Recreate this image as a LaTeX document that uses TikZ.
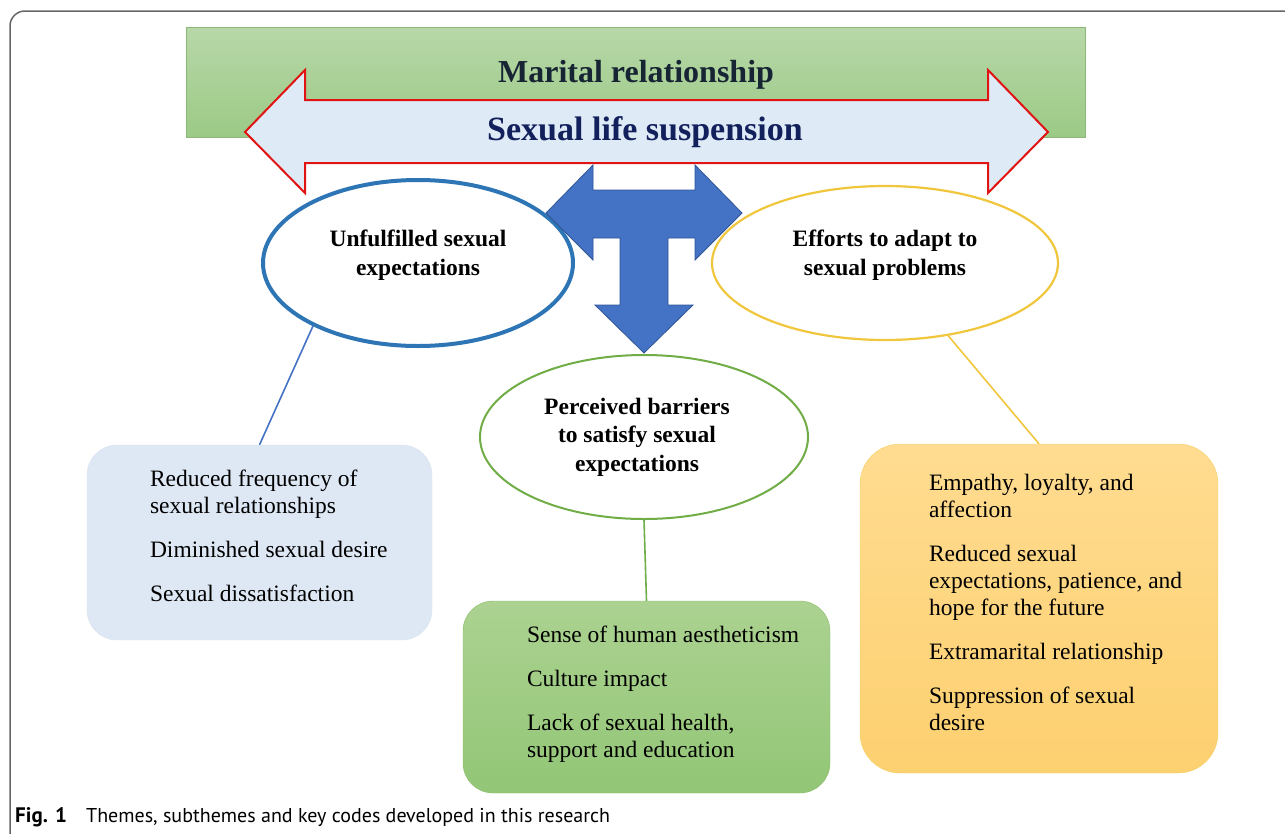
\documentclass[tikz,border=0pt]{standalone}
\usepackage{fontspec}
\setmainfont{Liberation Serif}
\newfontfamily\capfont{PT Sans}
\usepackage{xcolor}
\usepackage{tikz}
\usetikzlibrary{shapes.geometric}
\definecolor{bannertop}{RGB}{183,215,168}
\definecolor{bannerbot}{RGB}{156,202,134}
\definecolor{bannerline}{RGB}{140,185,120}
\definecolor{arrowfill}{RGB}{222,235,247}
\definecolor{arrowred}{RGB}{225,20,20}
\definecolor{tblue}{RGB}{68,114,196}
\definecolor{tbluedark}{RGB}{47,85,151}
\definecolor{unfblue}{RGB}{46,117,182}
\definecolor{effyellow}{RGB}{240,198,60}
\definecolor{pergreen}{RGB}{112,173,71}
\definecolor{boxblue}{RGB}{222,232,244}
\definecolor{boxgreentop}{RGB}{172,210,145}
\definecolor{boxgreenbot}{RGB}{146,198,118}
\definecolor{boxyeltop}{RGB}{255,220,145}
\definecolor{boxyelbot}{RGB}{253,208,112}
\definecolor{maritalcol}{RGB}{22,36,52}
\definecolor{suspcol}{RGB}{18,32,92}
\tikzstyle{theme}=[draw,ellipse,fill=white,inner sep=0pt]
\tikzstyle{themetext}=[align=center,inner sep=0pt,font=\fontsize{23.5}{28.5}\selectfont\bfseries]
\tikzstyle{codebox}=[rectangle,rounded corners=30pt,inner sep=0pt]
\tikzstyle{codetext}=[align=left,anchor=west,inner sep=0pt,font=\fontsize{23.5}{27}\selectfont]
\tikzstyle{link}=[line width=1.6pt]

\begin{document}
\begin{tikzpicture}[x=1pt,y=-1pt]
	\useasboundingbox (0,0) rectangle (1285,833);
	\clip (0,0) rectangle (1285,833);
	\draw[draw=black!60,line width=1.5pt,rounded corners=15pt] (10,11) rectangle (1310,850);
	\node[rectangle,draw=bannerline,top color=bannertop,bottom color=bannerbot,minimum width=899pt,minimum height=110pt,inner sep=0pt] (banner) at (635.5,82) {};
	\node[inner sep=0pt,text=maritalcol,font=\fontsize{32}{36}\selectfont\bfseries] (marital) at (636,75) {Marital relationship};
	\filldraw[fill=arrowfill,draw=arrowred,line width=2pt] (245,132) -- (305,70) -- (305,100) -- (988,100) -- (988,70) -- (1048,132) -- (988,193) -- (988,163) -- (305,163) -- (305,193) -- cycle;
	\node[inner sep=0pt,text=suspcol,font=\fontsize{34}{38}\selectfont\bfseries] (suspension) at (645,132) {Sexual life suspension};
	\node[theme,draw=unfblue,line width=4pt,minimum width=310pt,minimum height=166pt] (unfulfilled) at (418,263) {};
	\node[themetext] (unfulfilledtext) at ([yshift=8pt]unfulfilled.center) {Unfulfilled sexual\\expectations};
	\node[theme,draw=effyellow,line width=2.2pt,minimum width=346pt,minimum height=154pt] (efforts) at (885,263) {};
	\node[themetext] (effortstext) at ([yshift=8pt]efforts.center) {Efforts to adapt to\\sexual problems};
	\node[theme,draw=pergreen,line width=2pt,minimum width=328pt,minimum height=164pt] (barriers) at (644,437) {};
	\node[themetext] (barrierstext) at ([xshift=-7pt]barriers.center) {Perceived barriers\\to satisfy sexual\\expectations};
	\filldraw[fill=tblue,draw=tbluedark,line width=0.8pt] (546,213) -- (593,165) -- (593,190) -- (695,190) -- (695,165) -- (742,213) -- (695,260) -- (695,238) -- (668,238) -- (668,305) -- (693,305) -- (644,353) -- (595,305) -- (620,305) -- (620,238) -- (593,238) -- (593,260) -- cycle;
	\node[codebox,fill=boxblue,draw=boxblue!90!black!20!boxblue,minimum width=345pt,minimum height=195pt] (unfulfilledbox) at (259.5,542.5) {};
	\node[codetext] (unfulfilledcodes) at ([xshift=63pt,yshift=7pt]unfulfilledbox.west) {Reduced frequency of\\sexual relationships\\[17pt]Diminished sexual desire\\[17pt]Sexual dissatisfaction};
	\node[codebox,draw=pergreen!80,top color=boxgreentop,bottom color=boxgreenbot,minimum width=367pt,minimum height=192pt] (barriersbox) at (646.5,697) {};
	\node[codetext] (barrierscodes) at ([xshift=64pt,yshift=3pt]barriersbox.west) {Sense of human aestheticism\\[17pt]Culture impact\\[17pt]Lack of sexual health,\\support and education};
	\node[codebox,rounded corners=40pt,draw=effyellow!80,top color=boxyeltop,bottom color=boxyelbot,minimum width=358pt,minimum height=329pt] (effortsbox) at (1039,608.5) {};
	\node[codetext] (effortscodes) at ([xshift=69pt,yshift=6pt]effortsbox.west) {Empathy, loyalty, and\\affection\\[17pt]Reduced sexual\\expectations, patience, and\\hope for the future\\[17pt]Extramarital relationship\\[17pt]Suppression of sexual\\desire};
	\draw[link,draw=tblue] (unfulfilled.211) -- (unfulfilledbox.north);
	\draw[link,draw=effyellow] (efforts.-49) -- (effortsbox.north);
	\draw[link,draw=pergreen] (barriers.south) -- (barriersbox.north);
	\node[anchor=base west,inner sep=0pt,font=\capfont\bfseries\fontsize{21}{24}\selectfont] (fignum) at (15,822) {Fig. 1};
	\node[anchor=base west,inner sep=0pt,font=\capfont\fontsize{20}{24}\selectfont] (caption) at (86,822) {Themes, subthemes and key codes developed in this research};
\end{tikzpicture}
\end{document}
